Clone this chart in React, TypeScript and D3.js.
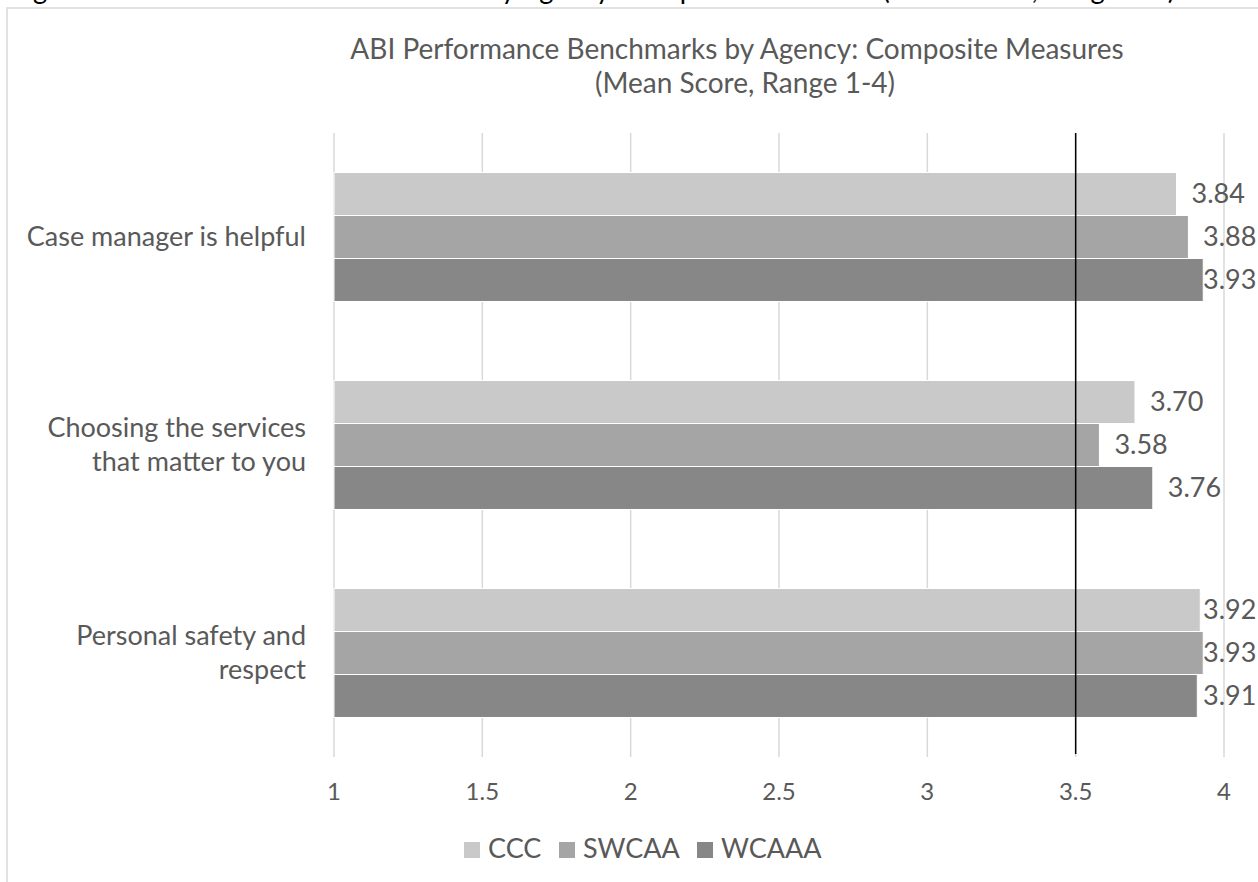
import * as d3 from 'd3';

const categories = ['Case manager is helpful', 'Choosing the services that matter to you', 'Personal safety and respect'];
const categoryLines = [['Case manager is helpful'], ['Choosing the services', 'that matter to you'], ['Personal safety and', 'respect']];
const seriesNames = ['CCC', 'SWCAA', 'WCAAA'];
const cccValues = [3.84, 3.70, 3.92];
const swcaaValues = [3.88, 3.58, 3.93];
const wcaaaValues = [3.93, 3.76, 3.91];
const xTicks = [1, 1.5, 2, 2.5, 3, 3.5, 4];
const benchmark = 3.5;

const W = 1258;
const H = 882;
const FONT = 'Lato, Carlito, Calibri, sans-serif';
const TEXT = '#595959';
const colors = ['#c9c9c9', '#a5a5a5', '#878787'];

export default function App() {
  const values = [cccValues, swcaaValues, wcaaaValues];
  const margin = { top: 133, right: 34, bottom: 125, left: 334 };

  const x = d3.scaleLinear().domain([1, 4]).range([margin.left, W - margin.right]);
  const y = d3.scaleBand<string>().domain(categories).range([margin.top, H - margin.bottom]).padding(0);
  const gap = y.bandwidth() * 0.19;
  const ys = d3.scaleBand<string>().domain(seriesNames).range([gap, y.bandwidth() - gap]).padding(0);

  const labelMaxX = x(4) - 21;
  const legendStart = 464;
  const legendWidths = [95, 138, 120];
  const legendX = legendWidths.map((_, i) => legendStart + d3.sum(legendWidths.slice(0, i)));

  return (
    <svg width={W} height={H} style={{ position: 'absolute', left: 0, top: 0, background: '#fff' }} fontFamily={FONT}>
      {/* cut-off figure caption above the chart */}
      <text x={11} y={-1} fontSize={28} fill="#000" textLength={1164} lengthAdjust="spacingAndGlyphs">
        Figure 6: ABI Performance Benchmarks by Agency: Composite Measures (Mean Score, Range 1-4)
      </text>

      {/* chart frame */}
      <rect x={7} y={8} width={W + 20} height={H + 20} fill="none" stroke="#d9d9d9" strokeWidth={1.5} />

      {/* title */}
      <text x={737} y={59} textAnchor="middle" fontSize={28} fill={TEXT}>
        ABI Performance Benchmarks by Agency: Composite Measures
      </text>
      <text x={745} y={93} textAnchor="middle" fontSize={28} fill={TEXT}>
        (Mean Score, Range 1-4)
      </text>

      {/* gridlines */}
      {xTicks.map(t => (
        <line key={t} x1={x(t)} x2={x(t)} y1={margin.top} y2={H - margin.bottom} stroke="#d9d9d9" strokeWidth={1.5} />
      ))}

      {/* bars */}
      {categories.map((c, ci) => (
        <g key={c} transform={`translate(0,${y(c)})`}>
          {seriesNames.map((s, si) => (
            <rect
              key={s}
              x={x(1)}
              y={ys(s)}
              width={x(values[si][ci]) - x(1)}
              height={ys.bandwidth()}
              fill={colors[si]}
              stroke="#fff"
              strokeWidth={1}
            />
          ))}
          {seriesNames.map((s, si) => (
            <text
              key={s}
              x={Math.min(x(values[si][ci]) + 15, labelMaxX)}
              y={(ys(s) || 0) + ys.bandwidth() / 2 + 9}
              fontSize={27}
              fill={TEXT}
            >
              {values[si][ci].toFixed(2)}
            </text>
          ))}
        </g>
      ))}

      {/* benchmark line */}
      <line x1={x(benchmark)} x2={x(benchmark)} y1={margin.top} y2={H - margin.bottom - 3} stroke="#000" strokeWidth={1.5} />

      {/* category labels */}
      {categories.map((c, ci) => {
        const lines = categoryLines[ci];
        const cy = (y(c) || 0) + y.bandwidth() / 2;
        const lh = 34;
        return (
          <text key={c} textAnchor="end" fontSize={27} fill={TEXT}>
            {lines.map((l, li) => (
              <tspan key={li} x={306} y={cy + 9 + (li - (lines.length - 1) / 2) * lh}>{l}</tspan>
            ))}
          </text>
        );
      })}

      {/* x axis tick labels */}
      {xTicks.map(t => (
        <text key={t} x={x(t)} y={800} textAnchor="middle" fontSize={24} fill={TEXT}>
          {d3.format('')(t)}
        </text>
      ))}

      {/* legend */}
      {seriesNames.map((s, i) => (
        <g key={s} transform={`translate(${legendX[i]},842)`}>
          <rect x={0} y={0} width={16} height={16} fill={colors[i]} />
          <text x={24} y={16} fontSize={27} fill={TEXT}>{s}</text>
        </g>
      ))}
    </svg>
  );
}
